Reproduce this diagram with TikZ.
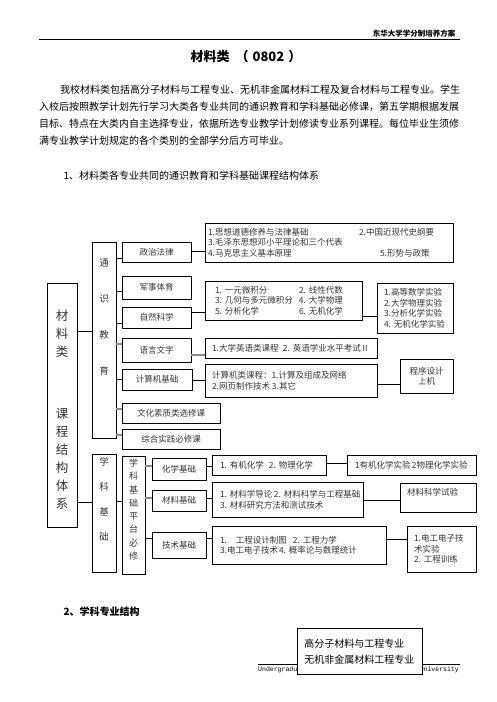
\documentclass[tikz,border=0pt]{standalone}
\usepackage{fontspec}
\setmainfont{Noto Sans CJK SC}
\setmonofont{Liberation Mono}
\usetikzlibrary{positioning}
\tikzset{
  box/.style={draw, line width=0.7pt, inner sep=2pt, text=black!80,
    font=\fontsize{8.5}{10.5}\selectfont},
  detail/.style={box, align=left, inner xsep=7pt},
  coltext/.style={text=black!80, align=center, inner sep=0pt},
  link/.style={line width=0.7pt},
  greylink/.style={line width=1.2pt, black!45},
}
\begin{document}
\begin{tikzpicture}[x=1pt,y=-1pt]
    \useasboundingbox (0,0) rectangle (496,702);

    % page header and title
    \node[anchor=base east, font=\bfseries\fontsize{7.5}{9}\selectfont] (header) at (459,36) {东华大学学分制培养方案};
    \draw[line width=0.8pt] (39,39.5) -- (460,39.5);
    \node[font=\bfseries\fontsize{13}{15}\selectfont] (title) at (246,57) {材料类\hspace{6pt}（\hspace{4pt}0802\hspace{4pt}）};

    % introduction
    \node[anchor=north west, align=left, inner sep=0pt, font=\fontsize{10}{17}\selectfont] (intro) at (39,85) {%
      \hspace*{21pt}我校材料类包括高分子材料与工程专业、无机非金属材料工程及复合材料与工程专业。学生\\
      入校后按照教学计划先行学习大类各专业共同的通识教育和学科基础必修课，第五学期根据发展\\
      目标、特点在大类内自主选择专业，依据所选专业教学计划修读专业系列课程。每位毕业生须修\\
      满专业教学计划规定的各个类别的全部学分后方可毕业。};
    \node[anchor=west, font=\fontsize{10}{12}\selectfont] (sec1) at (60,176) {1、材料类各专业共同的通识教育和学科基础课程结构体系};

    % columns
    \node[box, minimum width=30pt, minimum height=244pt] (big) at (62,405) {};
    \node[coltext, font=\fontsize{12.5}{18}\selectfont] (bigtext) at (62,410) {材\\料\\类\\[44pt]课\\程\\结\\构\\体\\系};
    \node[box, minimum width=24pt, minimum height=196pt] (tongshi) at (104,340) {};
    \node[coltext, font=\fontsize{9.5}{36}\selectfont] (tongshitext) at (104,317) {通\\识\\教\\育};
    \node[box, minimum width=24pt, minimum height=118pt] (xueke) at (104,513) {};
    \node[coltext, font=\fontsize{9.5}{25}\selectfont] (xueketext) at (104,499.5) {学\\科\\基\\础};
    \node[box, minimum width=23pt, minimum height=118pt] (pingtai) at (133.5,515) {};
    \node[coltext, font=\fontsize{9}{13.3}\selectfont] (pingtaitext) at (133.5,509.5) {学\\科\\基\\础\\平\\台\\必\\修};

    % general education
    \node[box, minimum width=69pt, minimum height=20pt] (zhengzhi) at (156.5,252) {政治法律};
    \node[box, minimum width=69pt, minimum height=23pt] (junshi) at (156.5,287.5) {军事体育};
    \node[box, minimum width=69pt, minimum height=21pt] (ziran) at (156.5,317.5) {自然科学};
    \node[box, minimum width=69pt, minimum height=24pt] (yuyan) at (156.5,350) {语言文字};
    \node[box, minimum width=70pt, minimum height=21pt] (jisuanji) at (157,379.5) {计算机基础};
    \node[box, minimum width=98pt, minimum height=20pt] (wenhua) at (171,413) {文化素质类选修课};
    \node[box, minimum width=98pt, minimum height=20pt] (zonghe) at (171,439) {综合实践必修课};

    \node[detail, inner xsep=3pt, text width=242pt, minimum height=39pt] (zzd) at (329,242.5) {%
      \makebox[151pt][l]{1.思想道德修养与法律基础}2.中国近现代史纲要\\
      3.毛泽东思想邓小平理论和三个代表\\
      \makebox[172pt][l]{4.马克思主义基本原理}5.形势与政策};
    \node[detail, inner xsep=10pt, text width=137pt, minimum height=39pt] (sxd) at (283.5,300.5) {%
      \makebox[84pt][l]{1.~一元微积分}2.~线性代数\\
      \makebox[84pt][l]{3.~几何与多元微积分}4.~大学物理\\
      \makebox[84pt][l]{5.~分析化学}6.~无机化学};
    \node[detail, text width=62pt, minimum height=50pt] (syd) at (415,308) {%
      1.高等数学实验\\2.大学物理实验\\3.分析化学实验\\4.~无机化学实验};
    \node[detail, text width=158pt, minimum height=20pt] (yyd) at (291,348) {%
      \makebox[71pt][l]{1.大学英语类课程}2.~英语学业水平考试Ⅱ};
    \node[detail, text width=158pt, minimum height=33pt] (jsd) at (291,380.5) {%
      计算机类课程：1.计算及组成及网络\\
      \makebox[60pt][l]{2.网页制作技术}3.其它};
    \node[box, align=center, minimum width=53pt, minimum height=34pt] (cxd) at (426.5,376) {程序设计\\上机};

    % discipline foundation
    \node[box, minimum width=54pt, minimum height=22pt] (huaxue) at (179,469) {化学基础};
    \node[box, minimum width=54pt, minimum height=21pt] (cailiao) at (179,500.5) {材料基础};
    \node[box, minimum width=54pt, minimum height=26pt] (jishu) at (179,545) {技术基础};

    \node[detail, inner xsep=8pt, text width=98pt, minimum height=20pt] (hxd) at (269,465) {%
      \makebox[49pt][l]{1.~有机化学}2.~物理化学};
    \node[detail, inner xsep=8pt, text width=113pt, minimum height=20pt] (hsy) at (411.5,465) {%
      \makebox[57pt][l]{1有机化学实验}2物理化学实验};
    \node[detail, inner xsep=8pt, text width=135pt, minimum height=35pt] (cld) at (287.5,499.5) {%
      \makebox[54pt][l]{1.~材料学导论}2.~材料科学与工程基础\\
      3.~材料研究方法和测试技术};
    \node[detail, text width=62pt, minimum height=29pt] (clsy) at (438,497.5) {材料科学试验\\ \mbox{}};
    \node[detail, inner xsep=8pt, text width=158pt, minimum height=38pt] (jsjd) at (299,545) {%
      \makebox[16pt][l]{1.}\makebox[57pt][l]{工程设计制图}2.~工程力学\\
      \makebox[59pt][l]{3.电工电子技术}4.~概率论与数理统计};
    \node[detail, text width=55pt, minimum height=46pt] (dgsy) at (441.5,549) {%
      1.电工电子技\\术实验\\2.~工程训练};

    % connectors
    \draw[link] (big.east |- 0,331) -- (tongshi.west |- 0,331);
    \draw[link] (big.east |- 0,502) -- (xueke.west |- 0,502);
    \draw[link] (xueke.east |- 0,501) -- (pingtai.west |- 0,501);
    \draw[link] (tongshi.east |- 0,258) -- (zhengzhi.west |- 0,258);
    \draw[link] (tongshi.east |- 0,291) -- (junshi.west |- 0,291);
    \draw[link] (tongshi.east |- 0,323) -- (ziran.west |- 0,323);
    \draw[greylink] (tongshi.east |- 0,344) -- (yuyan.west |- 0,344);
    \draw[link] (tongshi.east |- 0,379) -- (jisuanji.west |- 0,379);
    \draw[greylink] (tongshi.east |- 0,409) -- (wenhua.west |- 0,409);
    \draw[greylink] (tongshi.east |- 0,435) -- (zonghe.west |- 0,435);
    \draw[link] (zhengzhi.east |- 0,251) -- (zzd.west |- 0,251);
    \draw[link] (ziran.east |- 0,312) -- (sxd.west |- 0,312);
    \draw[link] (sxd.east |- 0,316) -- (syd.west |- 0,316);
    \draw[greylink] (yuyan.east |- 0,355) -- (yyd.west |- 0,355);
    \draw[link] (jisuanji.east |- 0,380) -- (jsd.west |- 0,380);
    \draw[link] (jsd.east |- 0,384) -- (cxd.west |- 0,384);
    \draw[greylink] (pingtai.east |- 0,466) -- (huaxue.west |- 0,466);
    \draw[greylink] (pingtai.east |- 0,498) -- (cailiao.west |- 0,498);
    \draw[link] (pingtai.east |- 0,538) -- (jishu.west |- 0,538);
    \draw[link] (huaxue.east |- 0,466) -- (hxd.west |- 0,466);
    \draw[link] (hxd.east |- 0,463) -- (hsy.west |- 0,463);
    \draw[link] (cailiao.east |- 0,498) -- (cld.west |- 0,498);
    \draw[link] (cld.east |- 0,500) -- (clsy.west |- 0,500);
    \draw[link] (jishu.east |- 0,538) -- (jsjd.west |- 0,538);
    \draw[link] (jsjd.east |- 0,539) -- (dgsy.west |- 0,539);

    % second section and footer
    \node[anchor=west, font=\bfseries\fontsize{10}{12}\selectfont] (sec2) at (60,612) {2、学科专业结构};
    \draw[line width=0.6pt] (258,664) -- (460,664);
    \node[anchor=west, inner sep=0pt, font=\ttfamily\fontsize{6.5}{8}\selectfont] (footl) at (258,670) {Undergradu};
    \node[anchor=east, inner sep=0pt, font=\ttfamily\fontsize{6.5}{8}\selectfont] (footr) at (459,670) {University};
    \node[draw, fill=white, line width=0.7pt, anchor=north west, align=left, inner xsep=7pt, text width=111pt,
      minimum height=46pt, font=\fontsize{10}{16}\selectfont] (majors) at (297,628) {高分子材料与工程专业\\无机非金属材料工程专业};
\end{tikzpicture}
\end{document}
